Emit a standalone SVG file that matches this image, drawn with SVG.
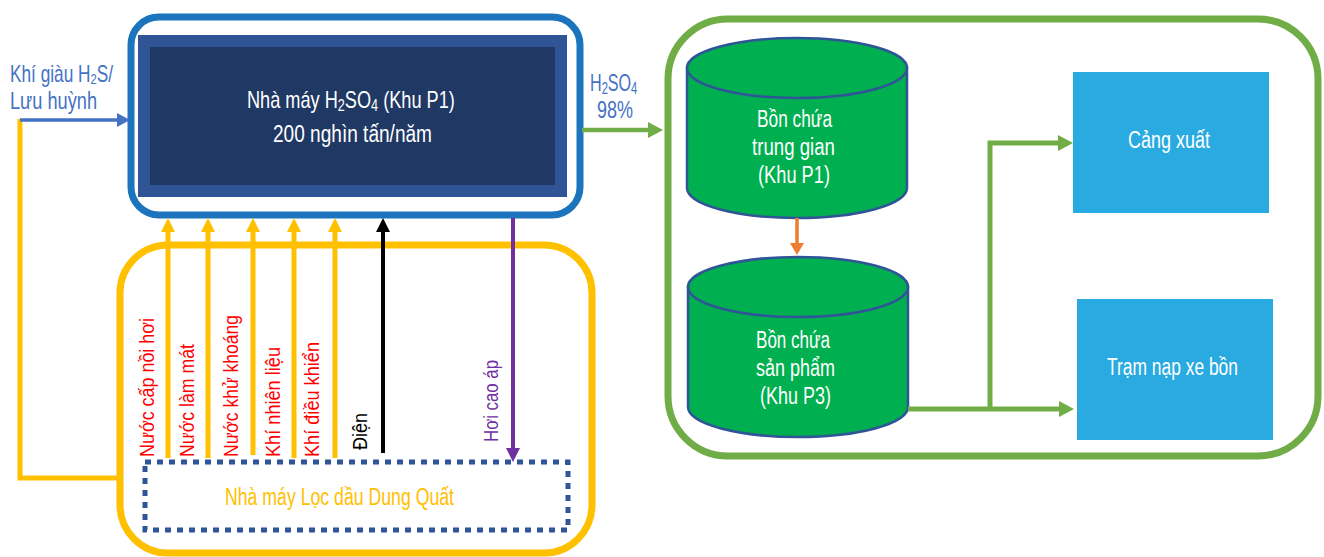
<svg xmlns="http://www.w3.org/2000/svg" width="1324" height="557" viewBox="0 0 1324 557">
<style>
text{font-family:"Liberation Sans Narrow","Liberation Sans",Arial,sans-serif;}
.t22{font-size:23px;}
.w{fill:#ffffff;}
.blue{fill:#4472c4;}
.red{fill:#ff0000;font-size:20px;}
.ya{stroke:#ffc000;stroke-width:5;fill:none;}
.gl{stroke:#70ad47;stroke-width:5;fill:none;}
.tank{fill:#00b050;stroke:#2f5597;stroke-width:2.5;}
.box{fill:#29abe2;}
</style>
<defs>
<marker id="hy" markerUnits="userSpaceOnUse" markerWidth="14" markerHeight="14" refX="0" refY="7" orient="auto"><path d="M0,0 L14,7 L0,14 Z" fill="#ffc000"/></marker>
<marker id="hk" markerUnits="userSpaceOnUse" markerWidth="14" markerHeight="14" refX="0" refY="7" orient="auto"><path d="M0,0 L14,7 L0,14 Z" fill="#000000"/></marker>
<marker id="hp" markerUnits="userSpaceOnUse" markerWidth="14" markerHeight="14" refX="0" refY="7" orient="auto"><path d="M0,0 L14,7 L0,14 Z" fill="#7030a0"/></marker>
<marker id="hb" markerUnits="userSpaceOnUse" markerWidth="13" markerHeight="14" refX="0" refY="7" orient="auto"><path d="M0,0 L13,7 L0,14 Z" fill="#4472c4"/></marker>
<marker id="hg" markerUnits="userSpaceOnUse" markerWidth="15" markerHeight="16" refX="0" refY="8" orient="auto"><path d="M0,0 L15,8 L0,16 Z" fill="#70ad47"/></marker>
<marker id="ho" markerUnits="userSpaceOnUse" markerWidth="12" markerHeight="14" refX="0" refY="7" orient="auto"><path d="M0,0 L12,7 L0,14 Z" fill="#ed7d31"/></marker>
</defs>

<g id="refinery-area">
<rect x="120" y="245" width="472" height="308" rx="48" fill="none" stroke="#ffc000" stroke-width="7"/>
</g>

<g id="storage-area">
<rect x="668" y="19" width="650" height="437" rx="60" fill="none" stroke="#70ad47" stroke-width="7"/>
</g>

<g id="h2so4-plant">
<rect x="131" y="17" width="449" height="198" rx="28" fill="#ffffff" stroke="#1c75bc" stroke-width="7"/>
<rect x="138" y="35" width="429" height="162" fill="#2f5597"/>
<rect x="150" y="47" width="405" height="138" fill="#203864"/>
<text class="t22 w" transform="translate(247,108) scale(0.79,1)" x="0" y="0">Nhà máy H<tspan font-size="16" baseline-shift="-20%">2</tspan>SO<tspan font-size="16" baseline-shift="-20%">4</tspan> (Khu P1)</text>
<text class="t22 w" x="273" y="142" textLength="159" lengthAdjust="spacingAndGlyphs">200 nghìn tấn/năm</text>
</g>

<g id="dung-quat-refinery">
<rect x="145" y="462" width="423" height="68" fill="none" stroke="#2f5597" stroke-width="5" stroke-dasharray="6 6"/>
<text class="t22" x="225" y="505" fill="#ffc000" textLength="229" lengthAdjust="spacingAndGlyphs">Nhà máy Lọc dầu Dung Quất</text>
</g>

<g id="tank-p1">
<path class="tank" d="M687,68 V188 A110,30 0 0 0 907,188 V68 Z"/>
<ellipse class="tank" cx="797" cy="68" rx="110" ry="30"/>
<text class="t22 w" x="757" y="127" textLength="75" lengthAdjust="spacingAndGlyphs">Bồn chứa</text>
<text class="t22 w" x="752" y="155" textLength="83" lengthAdjust="spacingAndGlyphs">trung gian</text>
<text class="t22 w" x="758" y="183" textLength="72" lengthAdjust="spacingAndGlyphs">(Khu P1)</text>
</g>

<g id="tank-p3">
<path class="tank" d="M688,287 V407 A110,30 0 0 0 908,407 V287 Z"/>
<ellipse class="tank" cx="798" cy="287" rx="110" ry="30"/>
<text class="t22 w" x="756" y="348" textLength="74" lengthAdjust="spacingAndGlyphs">Bồn chứa</text>
<text class="t22 w" x="756" y="376" textLength="79" lengthAdjust="spacingAndGlyphs">sản phẩm</text>
<text class="t22 w" x="760" y="404" textLength="71" lengthAdjust="spacingAndGlyphs">(Khu P3)</text>
</g>

<g id="export-port">
<rect class="box" x="1073" y="72" width="196" height="141"/>
<text class="t22 w" x="1128" y="148" textLength="82" lengthAdjust="spacingAndGlyphs">Cảng xuất</text>
</g>

<g id="truck-loading">
<rect class="box" x="1077" y="299" width="196" height="141"/>
<text class="t22 w" x="1107" y="375" textLength="131" lengthAdjust="spacingAndGlyphs">Trạm nạp xe bồn</text>
</g>

<g id="connectors">
<path class="ya" d="M20,119 V478 H120"/>
<line x1="20" y1="120" x2="117" y2="120" stroke="#4472c4" stroke-width="3.5" marker-end="url(#hb)"/>
<line class="ya" x1="168" y1="458" x2="168" y2="232" marker-end="url(#hy)"/>
<line class="ya" x1="208" y1="458" x2="208" y2="232" marker-end="url(#hy)"/>
<line class="ya" x1="253" y1="455" x2="253" y2="232" marker-end="url(#hy)"/>
<line class="ya" x1="294" y1="458" x2="294" y2="232" marker-end="url(#hy)"/>
<line class="ya" x1="335" y1="458" x2="335" y2="232" marker-end="url(#hy)"/>
<line x1="383" y1="453" x2="383" y2="232" stroke="#000000" stroke-width="4" marker-end="url(#hk)"/>
<line x1="513" y1="218" x2="513" y2="448" stroke="#7030a0" stroke-width="4" marker-end="url(#hp)"/>
<line x1="582" y1="130" x2="648" y2="130" stroke="#70ad47" stroke-width="4.5" marker-end="url(#hg)"/>
<line x1="797" y1="218" x2="797" y2="243" stroke="#ed7d31" stroke-width="3.5" marker-end="url(#ho)"/>
<line class="gl" x1="908" y1="409" x2="1059" y2="409" marker-end="url(#hg)"/>
<polyline class="gl" points="990,407 990,143 1058,143" marker-end="url(#hg)"/>

<text class="t22 blue" transform="translate(10,82) scale(0.75,1)" x="0" y="0">Khí giàu H<tspan font-size="15" baseline-shift="-15%">2</tspan>S/</text>
<text class="t22 blue" x="10" y="109" textLength="87" lengthAdjust="spacingAndGlyphs">Lưu huỳnh</text>
<text class="t22 blue" transform="translate(590,91) scale(0.7,1)" x="0" y="0">H<tspan font-size="16" baseline-shift="-20%">2</tspan>SO<tspan font-size="16" baseline-shift="-20%">4</tspan></text>
<text class="t22 blue" x="597" y="118" textLength="36" lengthAdjust="spacingAndGlyphs">98%</text>

<text class="red" transform="translate(154,457) rotate(-90)" textLength="139" lengthAdjust="spacingAndGlyphs">Nước cấp nồi hơi</text>
<text class="red" transform="translate(194,457) rotate(-90)" textLength="113" lengthAdjust="spacingAndGlyphs">Nước làm mát</text>
<text class="red" transform="translate(238,457) rotate(-90)" textLength="142" lengthAdjust="spacingAndGlyphs">Nước khử khoáng</text>
<text class="red" transform="translate(280,457) rotate(-90)" textLength="110" lengthAdjust="spacingAndGlyphs">Khí nhiên liệu</text>
<text class="red" transform="translate(319,457) rotate(-90)" textLength="115" lengthAdjust="spacingAndGlyphs">Khí điều khiển</text>
<text transform="translate(367,450) rotate(-90)" font-size="20" fill="#000000" textLength="37" lengthAdjust="spacingAndGlyphs">Điện</text>
<text transform="translate(498,442) rotate(-90)" font-size="20" fill="#7030a0" textLength="82" lengthAdjust="spacingAndGlyphs">Hơi cao áp</text>
</g>
</svg>
